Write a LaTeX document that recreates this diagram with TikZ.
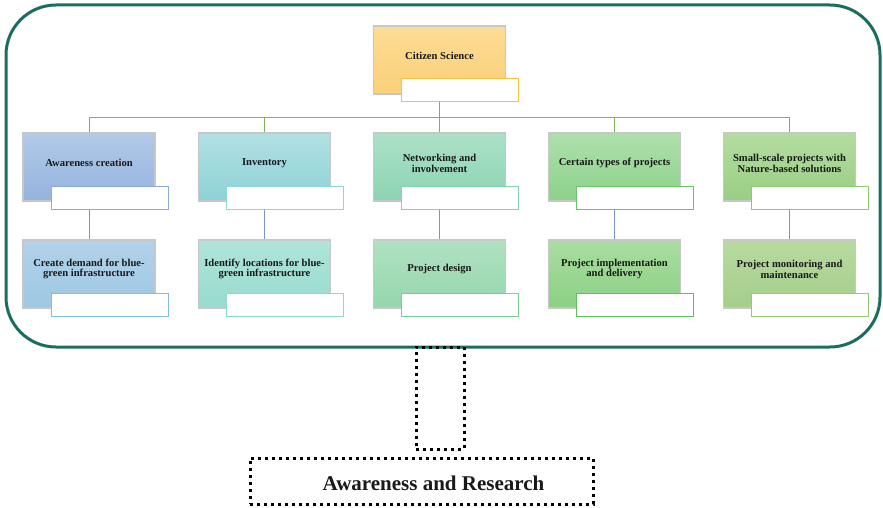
\documentclass[tikz,border=0pt]{standalone}
\usepackage{fontspec}
\setmainfont{Liberation Serif}
\usetikzlibrary{calc}
\definecolor{frame}{HTML}{1B6E5F}
\definecolor{busgreen}{HTML}{7AB648}
\definecolor{linkblue}{HTML}{7B93D1}
\tikzset{
  box/.style={rectangle, minimum width=132pt, minimum height=68pt, draw=black!22, line width=1.3pt, inner sep=0pt},
  lbl/.style={rectangle, minimum width=117pt, minimum height=23pt, fill=white, line width=1pt, inner sep=0pt},
  txt/.style={font=\fontsize{10.6}{10.8}\selectfont\bfseries, align=center, text=black!90, inner sep=0pt},
  dotbox/.style={draw=black, line width=3pt, dash pattern=on 3pt off 4pt, inner sep=0pt},
}
\begin{document}
\begin{tikzpicture}[x=1pt,y=-1pt]
\useasboundingbox (0,0) rectangle (883,508);
% outer frame
\draw[frame, line width=3pt, rounded corners=50pt] (6,5) rectangle (880,347);
% root
\node[box, top color={rgb,255:red,252;green,220;blue,150}, bottom color={rgb,255:red,251;green,208;blue,120}] (cs) at (439.5,60) {};
\node[txt] (cst) at ($(cs.center)+(0,-4)$) {Citizen Science};
\node[lbl, draw={rgb,255:red,245;green,194;blue,66}] (csl) at ($(cs.center)+(20.5,30.5)$) {};
% top row
\node[box, top color={rgb,255:red,178;green,201;blue,232}, bottom color={rgb,255:red,148;green,179;blue,222}] (a1) at (89,167) {};
\node[box, top color={rgb,255:red,178;green,224;blue,228}, bottom color={rgb,255:red,140;green,210;blue,214}] (a2) at (264.5,167) {};
\node[box, top color={rgb,255:red,172;green,224;blue,200}, bottom color={rgb,255:red,140;green,212;blue,178}] (a3) at (439.5,167) {};
\node[box, top color={rgb,255:red,174;green,224;blue,170}, bottom color={rgb,255:red,140;green,209;blue,138}] (a4) at (614.5,167) {};
\node[box, top color={rgb,255:red,180;green,220;blue,160}, bottom color={rgb,255:red,154;green,206;blue,132}] (a5) at (789.5,167) {};
\node[txt] (a1t) at ($(a1.center)+(0,-4)$) {Awareness creation};
\node[txt] (a2t) at ($(a2.center)+(0,-4)$) {Inventory};
\node[txt] (a3t) at ($(a3.center)+(0,-4)$) {Networking and\\involvement};
\node[txt] (a4t) at ($(a4.center)+(0,-4)$) {Certain types of projects};
\node[txt] (a5t) at ($(a5.center)+(0,-4)$) {Small-scale projects with\\Nature-based solutions};
\node[lbl, draw={rgb,255:red,143;green,170;blue,220}] (l1) at ($(a1.center)+(20.5,30.5)$) {};
\node[lbl, draw={rgb,255:red,142;green,214;blue,220}] (l2) at ($(a2.center)+(20.5,30.5)$) {};
\node[lbl, draw={rgb,255:red,127;green,213;blue,176}] (l3) at ($(a3.center)+(20.5,30.5)$) {};
\node[lbl, draw={rgb,255:red,108;green,196;blue,106}] (l4) at ($(a4.center)+(20.5,30.5)$) {};
\node[lbl, draw={rgb,255:red,140;green,201;blue,113}] (l5) at ($(a5.center)+(20.5,30.5)$) {};
% bottom row
\node[box, top color={rgb,255:red,178;green,210;blue,234}, bottom color={rgb,255:red,158;green,200;blue,228}] (b1) at (89,274) {};
\node[box, top color={rgb,255:red,176;green,228;blue,218}, bottom color={rgb,255:red,150;green,220;blue,206}] (b2) at (264.5,274) {};
\node[box, top color={rgb,255:red,176;green,226;blue,194}, bottom color={rgb,255:red,148;green,214;blue,172}] (b3) at (439.5,274) {};
\node[box, top color={rgb,255:red,168;green,222;blue,160}, bottom color={rgb,255:red,140;green,208;blue,132}] (b4) at (614.5,274) {};
\node[box, top color={rgb,255:red,184;green,218;blue,160}, bottom color={rgb,255:red,164;green,206;blue,138}] (b5) at (789.5,274) {};
\node[txt] (b1t) at ($(b1.center)+(0,-5)$) {Create demand for blue-\\green infrastructure};
\node[txt] (b2t) at ($(b2.center)+(0,-5)$) {Identify locations for blue-\\green infrastructure};
\node[txt] (b3t) at ($(b3.center)+(0,-5)$) {Project design};
\node[txt] (b4t) at ($(b4.center)+(0,-5)$) {Project implementation\\and delivery};
\node[txt] (b5t) at ($(b5.center)+(0,-5)$) {Project monitoring and\\maintenance};
\node[lbl, draw={rgb,255:red,130;green,190;blue,222}] (m1) at ($(b1.center)+(20.5,30.5)$) {};
\node[lbl, draw={rgb,255:red,140;green,218;blue,206}] (m2) at ($(b2.center)+(20.5,30.5)$) {};
\node[lbl, draw={rgb,255:red,120;green,206;blue,150}] (m3) at ($(b3.center)+(20.5,30.5)$) {};
\node[lbl, draw={rgb,255:red,100;green,190;blue,96}] (m4) at ($(b4.center)+(20.5,30.5)$) {};
\node[lbl, draw={rgb,255:red,150;green,200;blue,120}] (m5) at ($(b5.center)+(20.5,30.5)$) {};
% connectors
\coordinate (bus) at (0,118);
\draw[busgreen, line width=1pt] (cs.center |- csl.south) -- (cs.center |- bus);
\draw[busgreen, line width=1pt] (a1.north) -- (a1.center |- bus) -- (a5.center |- bus) -- (a5.north);
\foreach \i in {2,3,4} \draw[busgreen, line width=1pt] (a\i.north) -- (a\i.center |- bus);
\foreach \i in {1,...,5} \draw[linkblue, line width=1pt] (a\i.center |- l\i.south) -- (b\i.north);
% dotted parts
\node[dotbox, minimum width=48pt, minimum height=102pt] (stem) at (440,398) {};
\node[dotbox, minimum width=343pt, minimum height=46pt] (ar) at (421.5,481) {};
\node[font=\fontsize{21}{22}\selectfont\bfseries, text=black!90, inner sep=0pt] (art) at (433.5,483) {Awareness and Research};
\end{tikzpicture}
\end{document}
